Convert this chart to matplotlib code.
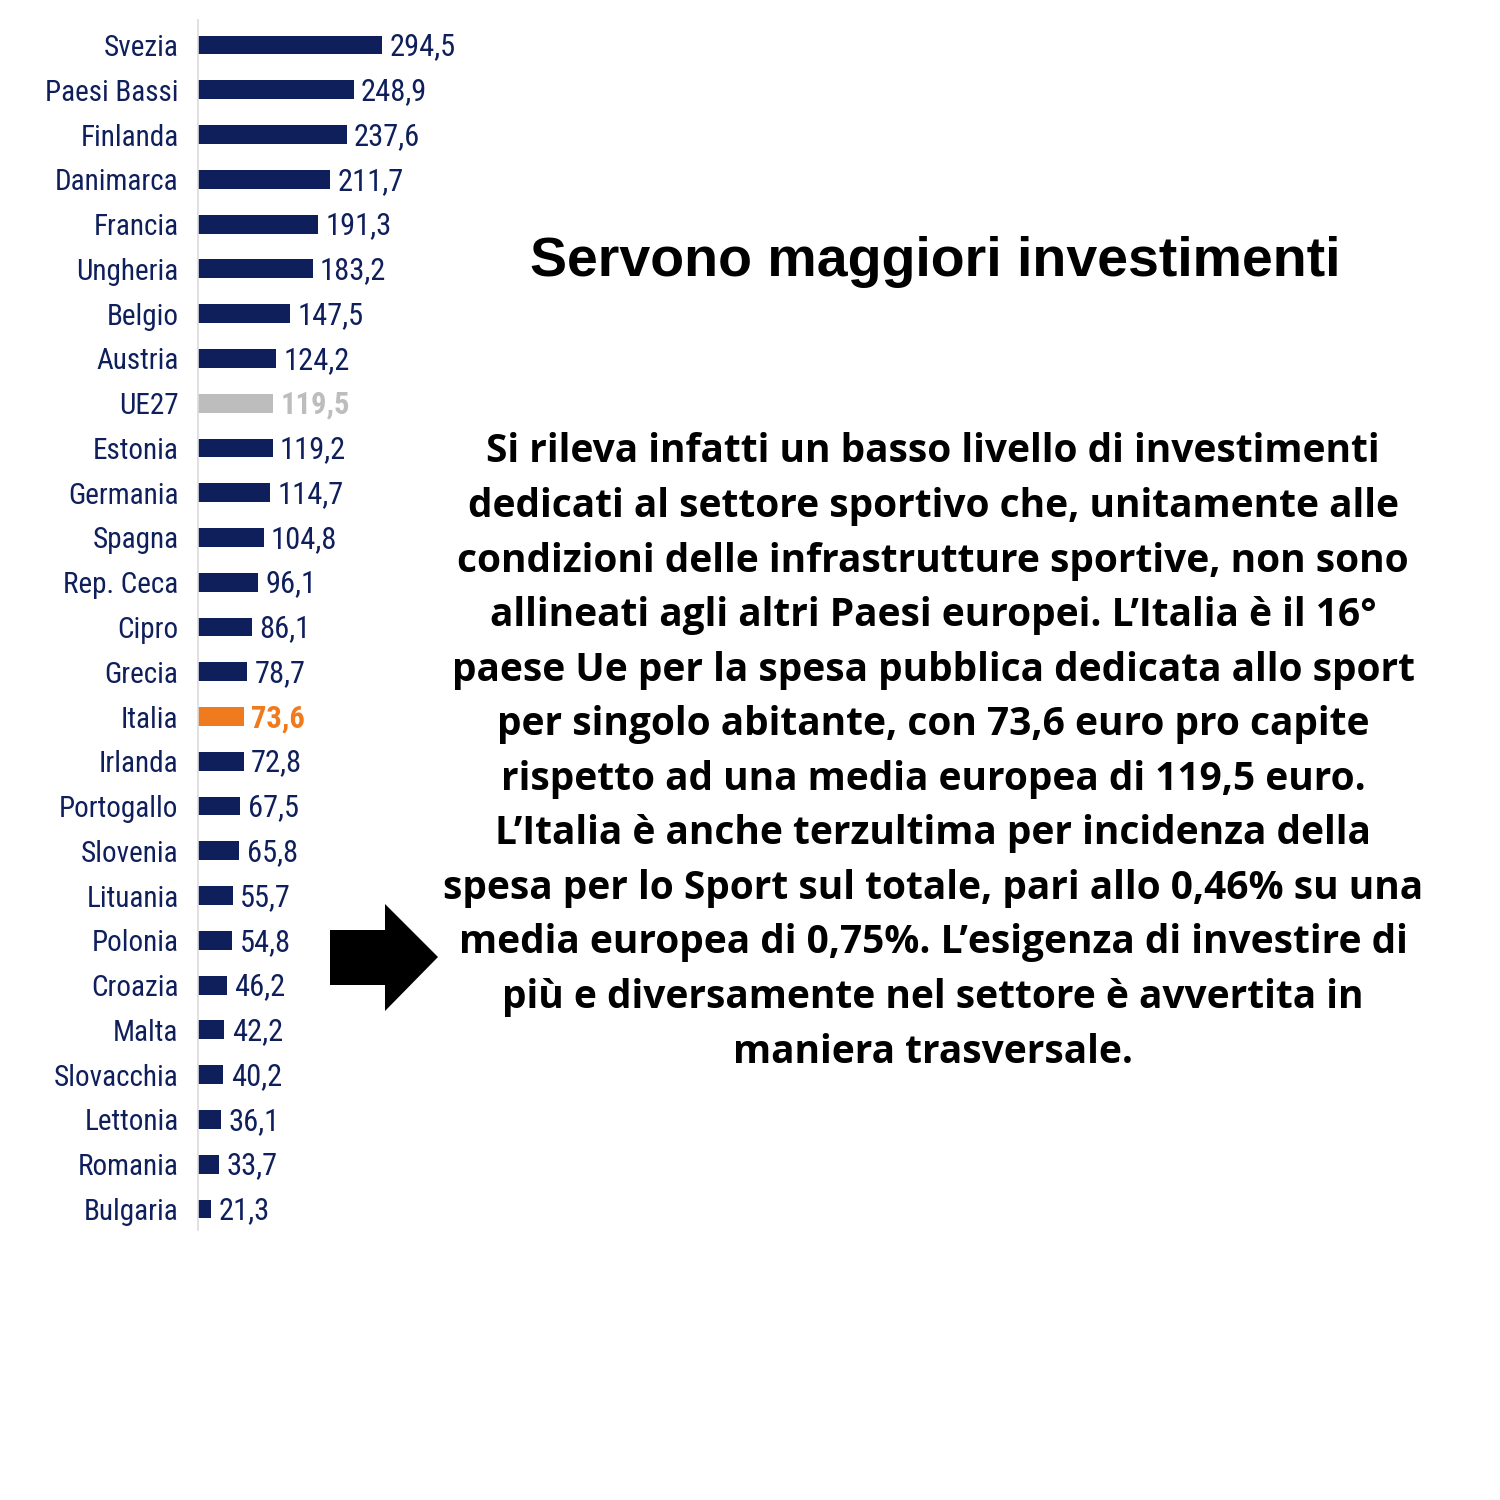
import matplotlib
matplotlib.use("Agg")
import matplotlib.pyplot as plt
from matplotlib.patches import Polygon
from matplotlib import font_manager as fm

countries = ["Svezia", "Paesi Bassi", "Finlanda", "Danimarca", "Francia", "Ungheria",
             "Belgio", "Austria", "UE27", "Estonia", "Germania", "Spagna", "Rep. Ceca",
             "Cipro", "Grecia", "Italia", "Irlanda", "Portogallo", "Slovenia", "Lituania",
             "Polonia", "Croazia", "Malta", "Slovacchia", "Lettonia", "Romania", "Bulgaria"]
values = [294.5, 248.9, 237.6, 211.7, 191.3, 183.2, 147.5, 124.2, 119.5, 119.2, 114.7,
          104.8, 96.1, 86.1, 78.7, 73.6, 72.8, 67.5, 65.8, 55.7, 54.8, 46.2, 42.2, 40.2,
          36.1, 33.7, 21.3]

title = "Servono maggiori investimenti"
body_lines = [
    "Si rileva infatti un basso livello di investimenti",
    "dedicati al settore sportivo che, unitamente alle",
    "condizioni delle infrastrutture sportive, non sono",
    "allineati agli altri Paesi europei. L’Italia è il 16°",
    "paese Ue per la spesa pubblica dedicata allo sport",
    "per singolo abitante, con 73,6 euro pro capite",
    "rispetto ad una media europea di 119,5 euro.",
    "L’Italia è anche terzultima per incidenza della",
    "spesa per lo Sport sul totale, pari allo 0,46% su una",
    "media europea di 0,75%. L’esigenza di investire di",
    "più e diversamente nel settore è avvertita in",
    "maniera trasversale.",
]

NAVY = "#0f1f5c"
GREY = "#bdbdbd"
ORANGE = "#f07b1e"
W = H = 1500


def _weight_num(w):
    if isinstance(w, (int, float)):
        return w
    table = {"normal": 400, "regular": 400, "book": 400, "medium": 500, "bold": 700,
             "semibold": 600, "demibold": 600, "heavy": 800, "black": 900, "light": 300}
    return table.get(str(w).lower(), 400)


def _stretch_num(s):
    if isinstance(s, (int, float)):
        return s
    table = {"ultra-condensed": 100, "extra-condensed": 200, "condensed": 300,
             "semi-condensed": 400, "normal": 500}
    return table.get(str(s).lower(), 500)


def find_narrow(bold):
    entries = fm.fontManager.ttflist
    pref = ["Liberation Sans Narrow", "Arial Narrow", "Roboto Condensed",
            "Open Sans Condensed", "Noto Sans Condensed", "DejaVu Sans Condensed"]
    want = 700 if bold else 400
    for name in pref:
        c = [e for e in entries if e.name == name and e.style == "normal"]
        if c:
            c.sort(key=lambda e: abs(_weight_num(e.weight) - want))
            return fm.FontProperties(fname=c[0].fname), 1.0
    c = [e for e in entries if _stretch_num(e.stretch) <= 400 and e.style == "normal"
         and "Mono" not in e.name and "Serif" not in e.name]
    if c:
        c.sort(key=lambda e: (abs(_weight_num(e.weight) - want), e.name))
        return fm.FontProperties(fname=c[0].fname), 1.0
    c = [e for e in entries if ("Narrow" in e.fname or "Condensed" in e.fname)
         and e.style == "normal" and "Mono" not in e.fname and "Serif" not in e.fname]
    if c:
        c.sort(key=lambda e: (abs(_weight_num(e.weight) - want), e.fname))
        return fm.FontProperties(fname=c[0].fname), 1.0
    return fm.FontProperties(family="Liberation Sans",
                             weight="bold" if bold else "normal"), 0.85


fp_reg, scale_reg = find_narrow(False)
fp_bold, scale_bold = find_narrow(True)
LSIZE = 21
VSIZE = 22

fig = plt.figure(figsize=(15, 15), dpi=100)
fig.patch.set_facecolor("white")

ax_left, ax_right = 198 / W, 498 / W
ax_top, ax_bot = 20 / H, 1230 / H
ax = fig.add_axes([ax_left, 1 - ax_bot, ax_right - ax_left, ax_bot - ax_top])

colors = []
for c in countries:
    if c == "UE27":
        colors.append(GREY)
    elif c == "Italia":
        colors.append(ORANGE)
    else:
        colors.append(NAVY)

ypos = list(range(len(countries)))
ax.barh(ypos, values, height=0.42, color=colors)
ax.set_xlim(0, 300 / 0.625)
ax.set_ylim(len(countries) - 1 + 0.47, -0.56)

ax.set_yticks(ypos)
ax.set_yticklabels(countries)
for t in ax.get_yticklabels():
    t.set_fontproperties(fp_reg)
    t.set_fontsize(LSIZE * scale_reg)
    t.set_color(NAVY)
ax.tick_params(axis="y", length=0, pad=14)
ax.set_xticks([])
for s in ["top", "right", "bottom"]:
    ax.spines[s].set_visible(False)
ax.spines["left"].set_color("#dcdcdc")
ax.spines["left"].set_linewidth(1.2)

for y, v, c, col in zip(ypos, values, countries, colors):
    bold = c in ("UE27", "Italia")
    fp = fp_bold if bold else fp_reg
    sc = scale_bold if bold else scale_reg
    t = ax.text(v + 12, y + 0.04, f"{v:.1f}".replace(".", ","), va="center", ha="left",
                color=col, fontproperties=fp)
    t.set_fontsize(VSIZE * sc)

# Title
fig.text(935 / W, 1 - 262 / H, title, ha="center", va="center",
         fontsize=40, fontweight="bold", family=["Liberation Sans", "DejaVu Sans"],
         color="black")

# Body text
y0 = 452
for i, line in enumerate(body_lines):
    fig.text(933 / W, 1 - (y0 + i * 54.55) / H, line, ha="center", va="center",
             fontsize=28, fontweight="bold", family=["Open Sans", "DejaVu Sans"],
             color="black")

# Arrow
pts = [(330, 930), (385, 930), (385, 904), (438, 957), (385, 1011), (385, 985), (330, 985)]
arrow = Polygon([(x / W, 1 - y / H) for x, y in pts], closed=True,
                transform=fig.transFigure, facecolor="black", edgecolor="none")
fig.patches.append(arrow)

fig.savefig("out.png", dpi=100, facecolor="white")
